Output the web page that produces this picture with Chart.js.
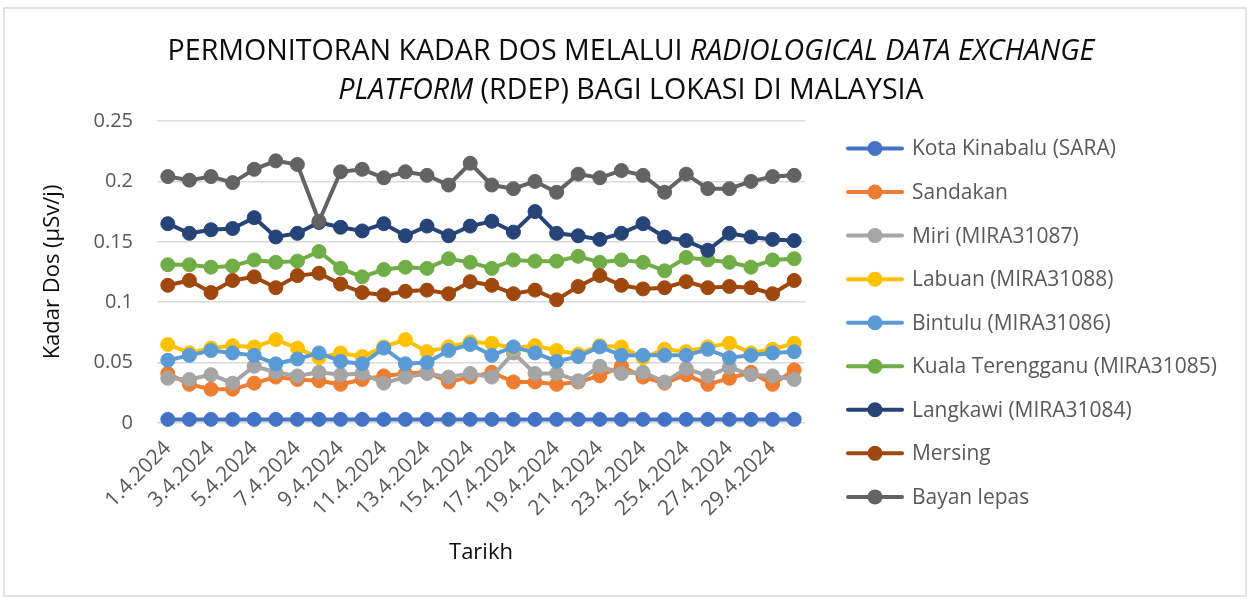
<!DOCTYPE html>
<html><head><meta charset="utf-8">
<script src="https://cdn.jsdelivr.net/npm/chart.js@4.4.1/dist/chart.umd.min.js"></script>
<style>html,body{margin:0;padding:0;background:#fff}#wrap{width:1250px;height:600px;position:relative}</style>
</head><body><div id="wrap"><canvas id="c" width="1250" height="600"></canvas></div>
<script>
const categories = ['1.4.2024','2.4.2024','3.4.2024','4.4.2024','5.4.2024','6.4.2024','7.4.2024','8.4.2024','9.4.2024','10.4.2024',
  '11.4.2024','12.4.2024','13.4.2024','14.4.2024','15.4.2024','16.4.2024','17.4.2024','18.4.2024','19.4.2024','20.4.2024',
  '21.4.2024','22.4.2024','23.4.2024','24.4.2024','25.4.2024','26.4.2024','27.4.2024','28.4.2024','29.4.2024','30.4.2024'];

const kotaKinabalu = [0.003,0.003,0.003,0.003,0.003,0.003,0.003,0.003,0.003,0.003,0.003,0.003,0.003,0.003,0.003,
  0.003,0.003,0.003,0.003,0.003,0.003,0.003,0.003,0.003,0.003,0.003,0.003,0.003,0.003,0.003];
const sandakan = [0.041,0.032,0.028,0.028,0.033,0.038,0.036,0.035,0.032,0.036,0.039,0.041,0.042,0.034,0.038,
  0.042,0.034,0.034,0.032,0.034,0.039,0.047,0.038,0.033,0.040,0.032,0.037,0.042,0.032,0.044];
const miri = [0.037,0.036,0.040,0.033,0.047,0.042,0.039,0.042,0.040,0.041,0.033,0.038,0.041,0.038,0.041,
  0.038,0.058,0.041,0.041,0.035,0.047,0.041,0.042,0.034,0.045,0.039,0.046,0.040,0.039,0.036];
const labuan = [0.065,0.058,0.062,0.064,0.063,0.069,0.062,0.054,0.058,0.055,0.063,0.069,0.059,0.063,0.067,
  0.066,0.062,0.064,0.060,0.057,0.064,0.063,0.054,0.061,0.059,0.063,0.066,0.058,0.061,0.066];
const bintulu = [0.052,0.056,0.060,0.058,0.056,0.049,0.053,0.058,0.051,0.049,0.062,0.049,0.050,0.060,0.065,
  0.056,0.063,0.058,0.051,0.055,0.063,0.056,0.056,0.056,0.056,0.061,0.054,0.056,0.058,0.059];
const kualaTerengganu = [0.131,0.131,0.129,0.130,0.135,0.133,0.134,0.142,0.128,0.121,0.127,0.129,0.128,0.136,0.133,
  0.128,0.135,0.134,0.134,0.138,0.133,0.135,0.133,0.126,0.137,0.135,0.133,0.129,0.135,0.136];
const langkawi = [0.165,0.157,0.160,0.161,0.170,0.154,0.157,0.166,0.162,0.159,0.165,0.155,0.163,0.155,0.163,
  0.167,0.158,0.175,0.157,0.155,0.152,0.157,0.165,0.154,0.151,0.143,0.157,0.154,0.152,0.151];
const mersing = [0.114,0.118,0.108,0.118,0.121,0.112,0.122,0.124,0.115,0.108,0.106,0.109,0.110,0.107,0.117,
  0.114,0.107,0.110,0.102,0.113,0.122,0.114,0.111,0.112,0.117,0.112,0.113,0.112,0.107,0.118];
const bayanLepas = [0.204,0.201,0.204,0.199,0.210,0.217,0.214,0.167,0.208,0.210,0.203,0.208,0.205,0.197,0.215,
  0.197,0.194,0.200,0.191,0.206,0.203,0.209,0.205,0.191,0.206,0.194,0.194,0.200,0.204,0.205];

const seriesNames = ['Kota Kinabalu (SARA)','Sandakan','Miri (MIRA31087)','Labuan (MIRA31088)','Bintulu (MIRA31086)',
  'Kuala Terengganu (MIRA31085)','Langkawi (MIRA31084)','Mersing','Bayan lepas'];
const seriesValues = [kotaKinabalu, sandakan, miri, labuan, bintulu, kualaTerengganu, langkawi, mersing, bayanLepas];
const seriesColors = ['#4472C4','#ED7D31','#A5A5A5','#FFC000','#5B9BD5','#70AD47','#264478','#9E480E','#636363'];

const yTickValues = [0, 0.05, 0.1, 0.15, 0.2, 0.25];
const yTickLabels = ['0', '0.05', '0.1', '0.15', '0.2', '0.25'];

const titleLine1 = [['PERMONITORAN KADAR DOS MELALUI ', false], ['RADIOLOGICAL DATA EXCHANGE', true]];
const titleLine2 = [['PLATFORM', true], [' (RDEP) BAGI LOKASI DI MALAYSIA', false]];
const yAxisTitle = 'Kadar Dos (µSv/j)';
const xAxisTitle = 'Tarikh';

const FAMILY = "'Open Sans', 'DejaVu Sans', sans-serif";

function fitSize(ctx, parts, target, ref) {
  let w = 0;
  parts.forEach(([t, it]) => { ctx.font = (it ? 'italic ' : '') + ref + 'px ' + FAMILY; w += ctx.measureText(t).width; });
  return ref * target / w;
}

const decorPlugin = {
  id: 'decor',
  beforeDraw(chart) {
    const ctx = chart.ctx;
    ctx.save();
    ctx.fillStyle = '#ffffff';
    ctx.fillRect(0, 0, chart.width, chart.height);
    ctx.strokeStyle = '#d9d9d9';
    ctx.lineWidth = 1.5;
    ctx.strokeRect(4, 8, 1242, 588);
    ctx.restore();
  },
  afterDraw(chart) {
    const ctx = chart.ctx;
    ctx.save();
    // Title
    const tSize = fitSize(ctx, titleLine1, 927, 26);
    ctx.fillStyle = '#0d0d0d';
    ctx.textBaseline = 'alphabetic';
    ctx.textAlign = 'left';
    [[titleLine1, 60], [titleLine2, 99]].forEach(([parts, y]) => {
      let w = 0;
      parts.forEach(([t, it]) => { ctx.font = (it ? 'italic ' : '') + tSize + 'px ' + FAMILY; w += ctx.measureText(t).width; });
      let x = 631 - w / 2;
      parts.forEach(([t, it]) => {
        ctx.font = (it ? 'italic ' : '') + tSize + 'px ' + FAMILY;
        ctx.fillText(t, x, y);
        x += ctx.measureText(t).width;
      });
    });
    // Legend
    const lSize = fitSize(ctx, [[seriesNames[0], false]], 204, 20);
    ctx.font = lSize + 'px ' + FAMILY;
    ctx.textBaseline = 'middle';
    seriesNames.forEach((name, i) => {
      const y = 148.5 + i * 43.55;
      ctx.strokeStyle = seriesColors[i];
      ctx.lineWidth = 4;
      ctx.lineCap = 'round';
      ctx.beginPath(); ctx.moveTo(848, y); ctx.lineTo(902, y); ctx.stroke();
      ctx.fillStyle = seriesColors[i];
      ctx.beginPath(); ctx.arc(875, y, 7.5, 0, Math.PI * 2); ctx.fill();
      ctx.fillStyle = '#595959';
      ctx.fillText(name, 912, y + 1);
    });
    ctx.restore();
  }
};

const n = seriesNames.length;
const datasets = seriesNames.map((name, i) => ({
  label: name,
  data: seriesValues[i],
  borderColor: seriesColors[i],
  backgroundColor: seriesColors[i],
  pointBackgroundColor: seriesColors[i],
  pointBorderColor: seriesColors[i],
  borderWidth: 4,
  pointRadius: 7,
  pointBorderWidth: 1,
  tension: 0,
  clip: false,
  order: n - i
}));

new Chart(document.getElementById('c'), {
  type: 'line',
  data: { labels: categories, datasets },
  options: {
    responsive: false,
    animation: false,
    devicePixelRatio: 1,
    layout: { padding: { top: 121, right: 445, bottom: 0, left: 0 } },
    plugins: { legend: { display: false }, title: { display: false }, tooltip: { enabled: false } },
    scales: {
      x: {
        offset: true,
        grid: { display: false, drawTicks: false },
        border: { display: false },
        ticks: {
          autoSkip: false, minRotation: 45, maxRotation: 45, padding: 13,
          color: '#595959', font: { family: FAMILY, size: 21 },
          callback: (v, i) => (i % 2 === 0 ? categories[i] : '')
        },
        title: { display: true, text: xAxisTitle, color: '#0d0d0d', font: { family: FAMILY, size: 22, lineHeight: 1.2 }, padding: { top: 0, bottom: 34 } },
        afterFit: (s) => { s.height = 177; }
      },
      y: {
        min: 0, max: 0.25,
        afterBuildTicks: (s) => { s.ticks = yTickValues.map(v => ({ value: v })); },
        grid: { color: '#d9d9d9', lineWidth: 1.5, drawTicks: false },
        border: { display: false },
        ticks: { padding: 24, color: '#595959', font: { family: FAMILY, size: 20 }, callback: (v, i) => yTickLabels[i] },
        title: { display: true, text: yAxisTitle, color: '#0d0d0d', font: { family: FAMILY, size: 22, lineHeight: 1.2 }, padding: { top: 40, bottom: 0 } },
        afterFit: (s) => { s.width = 157; }
      }
    }
  },
  plugins: [decorPlugin]
});
</script>
</body></html>
